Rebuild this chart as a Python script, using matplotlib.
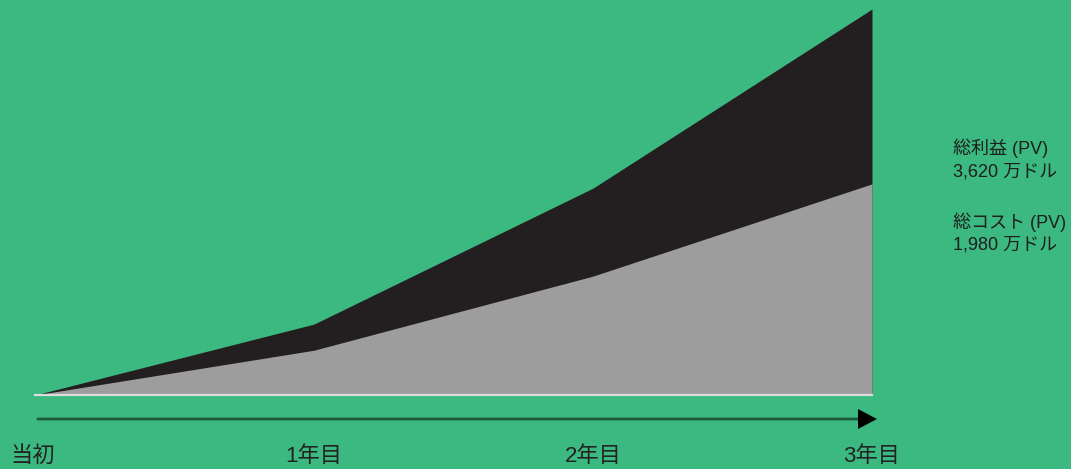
import matplotlib.pyplot as plt
import matplotlib.patches as mpatches

plt.rcParams['font.family'] = ['Liberation Sans', 'Noto Sans CJK JP', 'DejaVu Sans']

# cumulative values (万ドル, PV)
years = [0, 1, 2, 3]
year_labels = ['当初', '1年目', '2年目', '3年目']
benefit = [0, 665, 1940, 3620]
cost = [0, 420, 1115, 1980]

bg = '#3bb981'
W, H = 1071, 469

fig = plt.figure(figsize=(W / 100, H / 100), dpi=100, facecolor=bg)

# plot area: x 35..872 px, baseline y=395, top y=9
ax = fig.add_axes([35 / W, (H - 395) / H, 837 / W, 386 / H])
ax.set_facecolor(bg)
ax.fill_between(years, 0, benefit, color='#231f20', lw=0)
ax.fill_between(years, 0, cost, color='#9d9d9e', lw=0)
ax.axhline(0, color='#dcdcdc', lw=1.6, clip_on=False)
ax.set_xlim(0, 3)
ax.set_ylim(0, benefit[-1])
ax.axis('off')

# timeline arrow
y_arrow = 1 - 419 / H
fig.add_artist(mpatches.FancyArrowPatch((35 / W, y_arrow), (862 / W, y_arrow),
                                        transform=fig.transFigure,
                                        arrowstyle='-', color='#1d5a3c', lw=2.0))
fig.add_artist(mpatches.Polygon([[858 / W, y_arrow + 10 / H], [877 / W, y_arrow],
                                 [858 / W, y_arrow - 10 / H]],
                                closed=True, transform=fig.transFigure,
                                color='black', lw=0))

# year labels
xs = [35 + 837 * y / 3 for y in years]
xs[0] = 33
for x, lab in zip(xs, year_labels):
    fig.text(x / W, 1 - 456 / H, lab, ha='center', va='center',
             fontsize=16, color='#222222')

# right side labels
lines = [('総利益 (PV)', 148), ('3,620 万ドル', 172),
         ('総コスト (PV)', 222), ('1,980 万ドル', 245)]
for txt, y in lines:
    fig.text(953 / W, 1 - y / H, txt, ha='left', va='center',
             fontsize=13, color='#1e1e1e')

fig.savefig('out.png', dpi=100, facecolor=bg)
